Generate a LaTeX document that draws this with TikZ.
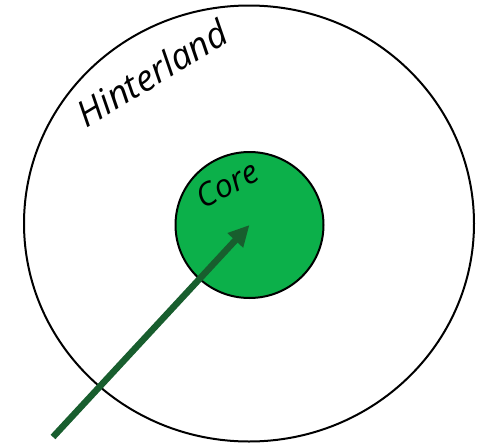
\documentclass[tikz,border=0pt]{standalone}
\usepackage{fontspec}
\setmainfont{Open Sans}
\usetikzlibrary{arrows.meta, shapes.geometric}
\definecolor{xCore}{RGB}{12,176,74}
\definecolor{xArrow}{RGB}{24,94,46}
\tikzset{
  zone/.style={draw, ellipse, line width=2pt, inner sep=0pt},
  tag/.style={font=\fontsize{32}{36}\selectfont\itshape, inner sep=0pt},
  push/.style={-{Triangle[length=21pt, width=20pt]}, line width=6.5pt, xArrow},
}
\begin{document}
\begin{tikzpicture}[x=1pt, y=-1pt]
  \useasboundingbox (0,0) rectangle (485,445);
  \node[zone, minimum width=450pt, minimum height=436pt] (hinter) at (249,223.5) {};
  \node[zone, fill=xCore, minimum width=148pt, minimum height=146pt] (core) at (249.5,225) {};
  \coordinate (src) at (53,437);
  \draw[push] (src) -- (core.center);
  \node[tag, rotate=28] (coretag) at (227,184) {Core};
  \node[tag, rotate=31, font=\fontsize{36}{40}\selectfont\itshape] (hintertag) at (152,73) {Hinterland};
\end{tikzpicture}
\end{document}
